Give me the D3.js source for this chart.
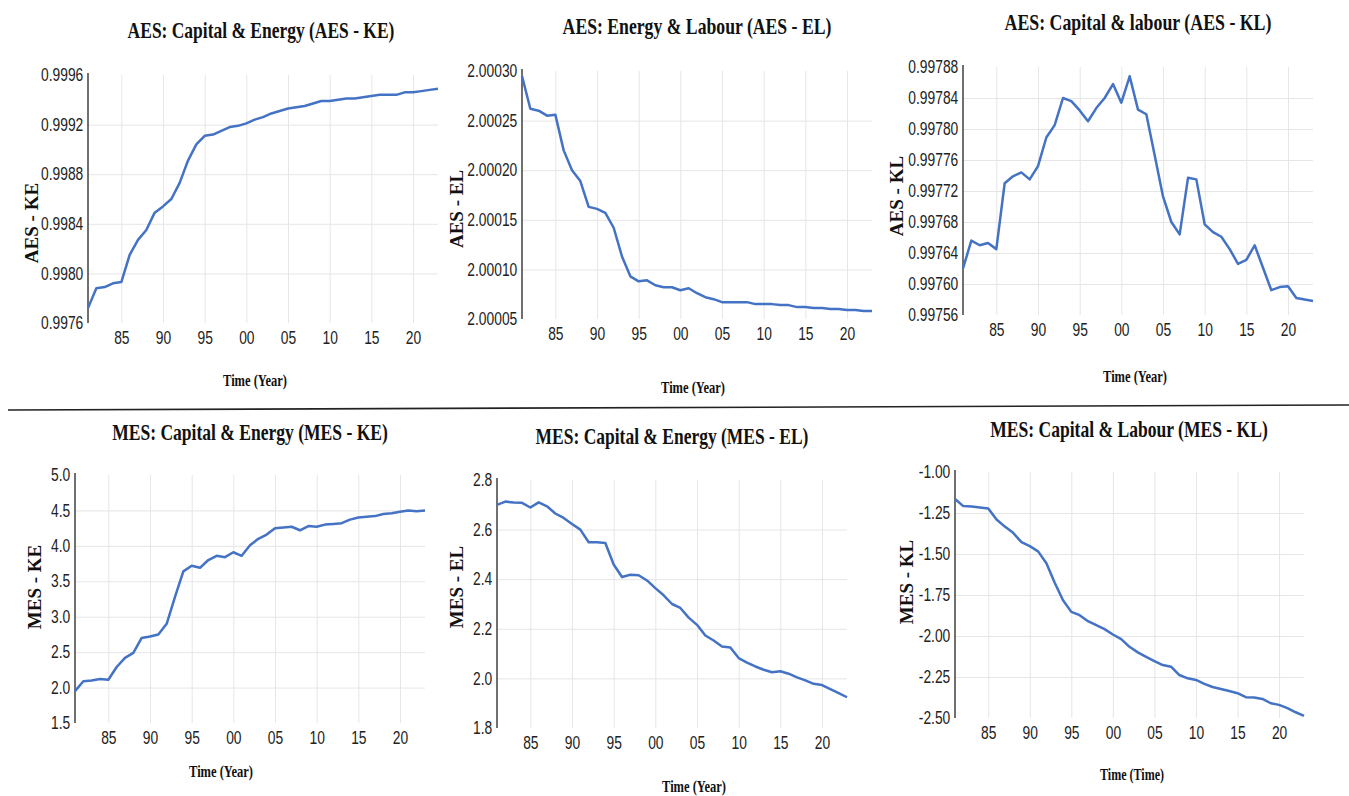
<!DOCTYPE html>
<meta charset="utf-8">
<script src="https://cdn.jsdelivr.net/npm/d3@7"></script>
<style>
body { margin: 0; background: #fff; }
.grid line { stroke: #e6e6e6; stroke-width: 1; }
.grid path { display: none; }
.tick text { font-family: "Liberation Sans", Arial, sans-serif; font-size: 17.5px; fill: #222; }
.ttl { font-family: "Liberation Serif", "Times New Roman", serif; font-weight: bold; fill: #111; }
.series { fill: none; stroke: #4472c4; stroke-width: 2.5; stroke-linejoin: round; }
</style>
<body>
<script>

var years = d3.range(1981, 2024);
var yearTicks = [1985, 1990, 1995, 2000, 2005, 2010, 2015, 2020];

// 1981..2023
var aesKE = [0.99772,0.99788,0.99789,0.99792,0.99793,0.99815,0.99827,0.99835,0.99849,0.99854,
  0.99860,0.99873,0.99891,0.99904,0.99911,0.99912,0.99915,0.99918,0.99919,0.99921,
  0.99924,0.99926,0.99929,0.99931,0.99933,0.99934,0.99935,0.99937,0.99939,0.99939,
  0.99940,0.99941,0.99941,0.99942,0.99943,0.99944,0.99944,0.99944,0.99946,0.99946,
  0.99947,0.99948,0.99949];
var aesEL = [2.000295,2.000262,2.000260,2.000255,2.000256,2.000220,2.000200,2.000189,2.000163,2.000161,
  2.000157,2.000142,2.000113,2.000093,2.000088,2.000089,2.000084,2.000082,2.000082,2.000079,
  2.000081,2.000076,2.000072,2.000070,2.000067,2.000067,2.000067,2.000067,2.000065,2.000065,
  2.000065,2.000064,2.000064,2.000062,2.000062,2.000061,2.000061,2.000060,2.000060,2.000059,
  2.000059,2.000058,2.000058];
var aesKL = [0.997620,0.997656,0.997650,0.997653,0.997645,0.997730,0.997739,0.997744,0.997735,0.997752,
  0.997789,0.997805,0.997840,0.997836,0.997824,0.997810,0.997827,0.997840,0.997858,0.997834,
  0.997868,0.997825,0.997819,0.997766,0.997713,0.997680,0.997664,0.997737,0.997735,0.997677,
  0.997667,0.997661,0.997645,0.997626,0.997631,0.997650,0.997621,0.997592,0.997596,0.997597,
  0.997582,0.997580,0.997578];
var mesKE = [1.95,2.09,2.10,2.12,2.11,2.29,2.42,2.49,2.70,2.72,
  2.75,2.90,3.28,3.64,3.72,3.69,3.80,3.86,3.84,3.91,
  3.86,4.01,4.10,4.16,4.25,4.26,4.27,4.22,4.28,4.27,
  4.30,4.31,4.32,4.37,4.40,4.41,4.42,4.45,4.46,4.48,
  4.50,4.49,4.50];
var mesEL = [2.700,2.713,2.709,2.708,2.689,2.710,2.694,2.665,2.647,2.623,
  2.600,2.549,2.549,2.546,2.459,2.409,2.418,2.416,2.395,2.364,
  2.335,2.300,2.284,2.245,2.216,2.173,2.153,2.129,2.125,2.082,
  2.064,2.048,2.035,2.025,2.029,2.019,2.004,1.992,1.978,1.973,
  1.957,1.941,1.924];
var mesKL = [-1.165,-1.208,-1.210,-1.216,-1.222,-1.290,-1.333,-1.371,-1.428,-1.452,
  -1.484,-1.556,-1.675,-1.782,-1.853,-1.873,-1.910,-1.934,-1.958,-1.991,
  -2.019,-2.066,-2.100,-2.127,-2.153,-2.177,-2.187,-2.238,-2.258,-2.268,
  -2.292,-2.311,-2.323,-2.335,-2.349,-2.373,-2.375,-2.384,-2.410,-2.420,
  -2.440,-2.465,-2.487];

var ticksKE1 = [0.9976, 0.9980, 0.9984, 0.9988, 0.9992, 0.9996];
var ticksEL1 = [2.00005, 2.00010, 2.00015, 2.00020, 2.00025, 2.00030];
var ticksKL1 = [0.99756, 0.99760, 0.99764, 0.99768, 0.99772, 0.99776, 0.99780, 0.99784, 0.99788];
var ticksKE2 = [1.5, 2.0, 2.5, 3.0, 3.5, 4.0, 4.5, 5.0];
var ticksEL2 = [1.8, 2.0, 2.2, 2.4, 2.6, 2.8];
var ticksKL2 = [-2.50, -2.25, -2.00, -1.75, -1.50, -1.25, -1.00];

// plain hyphen for negatives, like the original
var loc = d3.formatLocale({decimal: ".", thousands: ",", grouping: [3], currency: ["", ""], minus: "-"});

var svg = d3.select("body").append("svg")
    .attr("width", 1349)
    .attr("height", 796);

var panels = [
  {l: 88, t: 75, r: 438, b: 323, data: aesKE, ticks: ticksKE1, fmt: ".4f",
   title: "AES: Capital & Energy (AES - KE)", tx: 261, ty: 38, tw: 267,
   ylab: "AES - KE", yx: 32, yy: 223, xlab: "Time (Year)", xx: 255, xy: 386},
  {l: 522, t: 71, r: 872, b: 319, data: aesEL, ticks: ticksEL1, fmt: ".5f",
   title: "AES: Energy & Labour (AES - EL)", tx: 697, ty: 34, tw: 269,
   ylab: "AES - EL", yx: 457, yy: 209, xlab: "Time (Year)", xx: 693, xy: 393},
  {l: 963, t: 67, r: 1313, b: 315, data: aesKL, ticks: ticksKL1, fmt: ".5f",
   title: "AES: Capital & labour (AES - KL)", tx: 1138, ty: 30, tw: 267,
   ylab: "AES - KL", yx: 897, yy: 196, xlab: "Time (Year)", xx: 1135, xy: 382},
  {l: 75, t: 475, r: 425, b: 723, data: mesKE, ticks: ticksKE2, fmt: ".1f",
   title: "MES: Capital & Energy (MES - KE)", tx: 250, ty: 440, tw: 276,
   ylab: "MES - KE", yx: 35, yy: 587, xlab: "Time (Year)", xx: 221, xy: 777},
  {l: 497, t: 480, r: 847, b: 728, data: mesEL, ticks: ticksEL2, fmt: ".1f",
   title: "MES: Capital & Energy (MES - EL)", tx: 672, ty: 444, tw: 273,
   ylab: "MES - EL", yx: 457, yy: 587, xlab: "Time (Year)", xx: 694, xy: 792},
  {l: 955, t: 472, r: 1304, b: 718, data: mesKL, ticks: ticksKL2, fmt: ".2f",
   title: "MES: Capital & Labour (MES - KL)", tx: 1129, ty: 437, tw: 278,
   ylab: "MES - KL", yx: 907, yy: 582, xlab: "Time (Time)", xx: 1132, xy: 780}
];

// serif labels of the original are squeezed sideways: scale them to the measured width
function squeezed(txt, cx, cy, size, w) {
  var t = svg.append("text").attr("class", "ttl")
    .attr("text-anchor", "middle")
    .style("font-size", size + "px")
    .text(txt);
  var k = w / t.node().getComputedTextLength();
  t.attr("transform", "translate(" + cx + "," + cy + ") scale(" + k + ",1)");
}

panels.forEach(function(p) {
  var x = d3.scaleLinear().domain([1981, 2023]).range([p.l, p.r]);
  var y = d3.scaleLinear().domain(d3.extent(p.ticks)).range([p.b, p.t]);
  var inner = p.ticks.slice(1, -1);

  // grid
  svg.append("g").attr("class", "grid")
    .attr("transform", "translate(" + p.l + ",0)")
    .call(d3.axisLeft(y).tickValues(inner).tickSize(-(p.r - p.l)).tickFormat(""));
  svg.append("g").attr("class", "grid")
    .attr("transform", "translate(0," + p.b + ")")
    .call(d3.axisBottom(x).tickValues(yearTicks).tickSize(-(p.b - p.t)).tickFormat(""));

  // tick labels (squeezed like the narrow font of the original)
  svg.append("g")
    .attr("transform", "translate(" + p.l + ",0)")
    .call(d3.axisLeft(y).tickValues(p.ticks).tickSize(0).tickPadding(6).tickFormat(loc.format(p.fmt)))
    .call(function(g) {
      g.select(".domain").remove();
      g.selectAll("text").attr("transform", "scale(0.79,1)");
    });
  svg.append("g")
    .attr("transform", "translate(0," + p.b + ")")
    .call(d3.axisBottom(x).tickValues(yearTicks).tickSize(0).tickPadding(9)
      .tickFormat(function(d) { return d3.format("02d")(d % 100); }))
    .call(function(g) {
      g.select(".domain").remove();
      g.selectAll("text").attr("transform", "scale(0.79,1)");
    });

  // y axis line
  svg.append("line")
    .attr("x1", p.l).attr("x2", p.l)
    .attr("y1", p.t - 2).attr("y2", p.b)
    .attr("stroke", "#404040").attr("stroke-width", 1.5);

  var line = d3.line()
    .x(function(d, i) { return x(years[i]); })
    .y(function(d) { return y(d); });

  svg.append("path")
    .datum(p.data)
    .attr("class", "series")
    .attr("d", line);

  squeezed(p.title, p.tx, p.ty, 23, p.tw);

  svg.append("text").attr("class", "ttl")
    .attr("transform", "translate(" + (p.yx + 6) + "," + p.yy + ") rotate(-90)")
    .attr("text-anchor", "middle")
    .style("font-size", "19px")
    .text(p.ylab);

  squeezed(p.xlab, p.xx, p.xy, 16, 64);
});

// separator between the two rows
svg.append("line")
  .attr("x1", 8).attr("x2", 1349)
  .attr("y1", 410).attr("y2", 405)
  .attr("stroke", "#222").attr("stroke-width", 1.6);

</script>
</body>
</html>
